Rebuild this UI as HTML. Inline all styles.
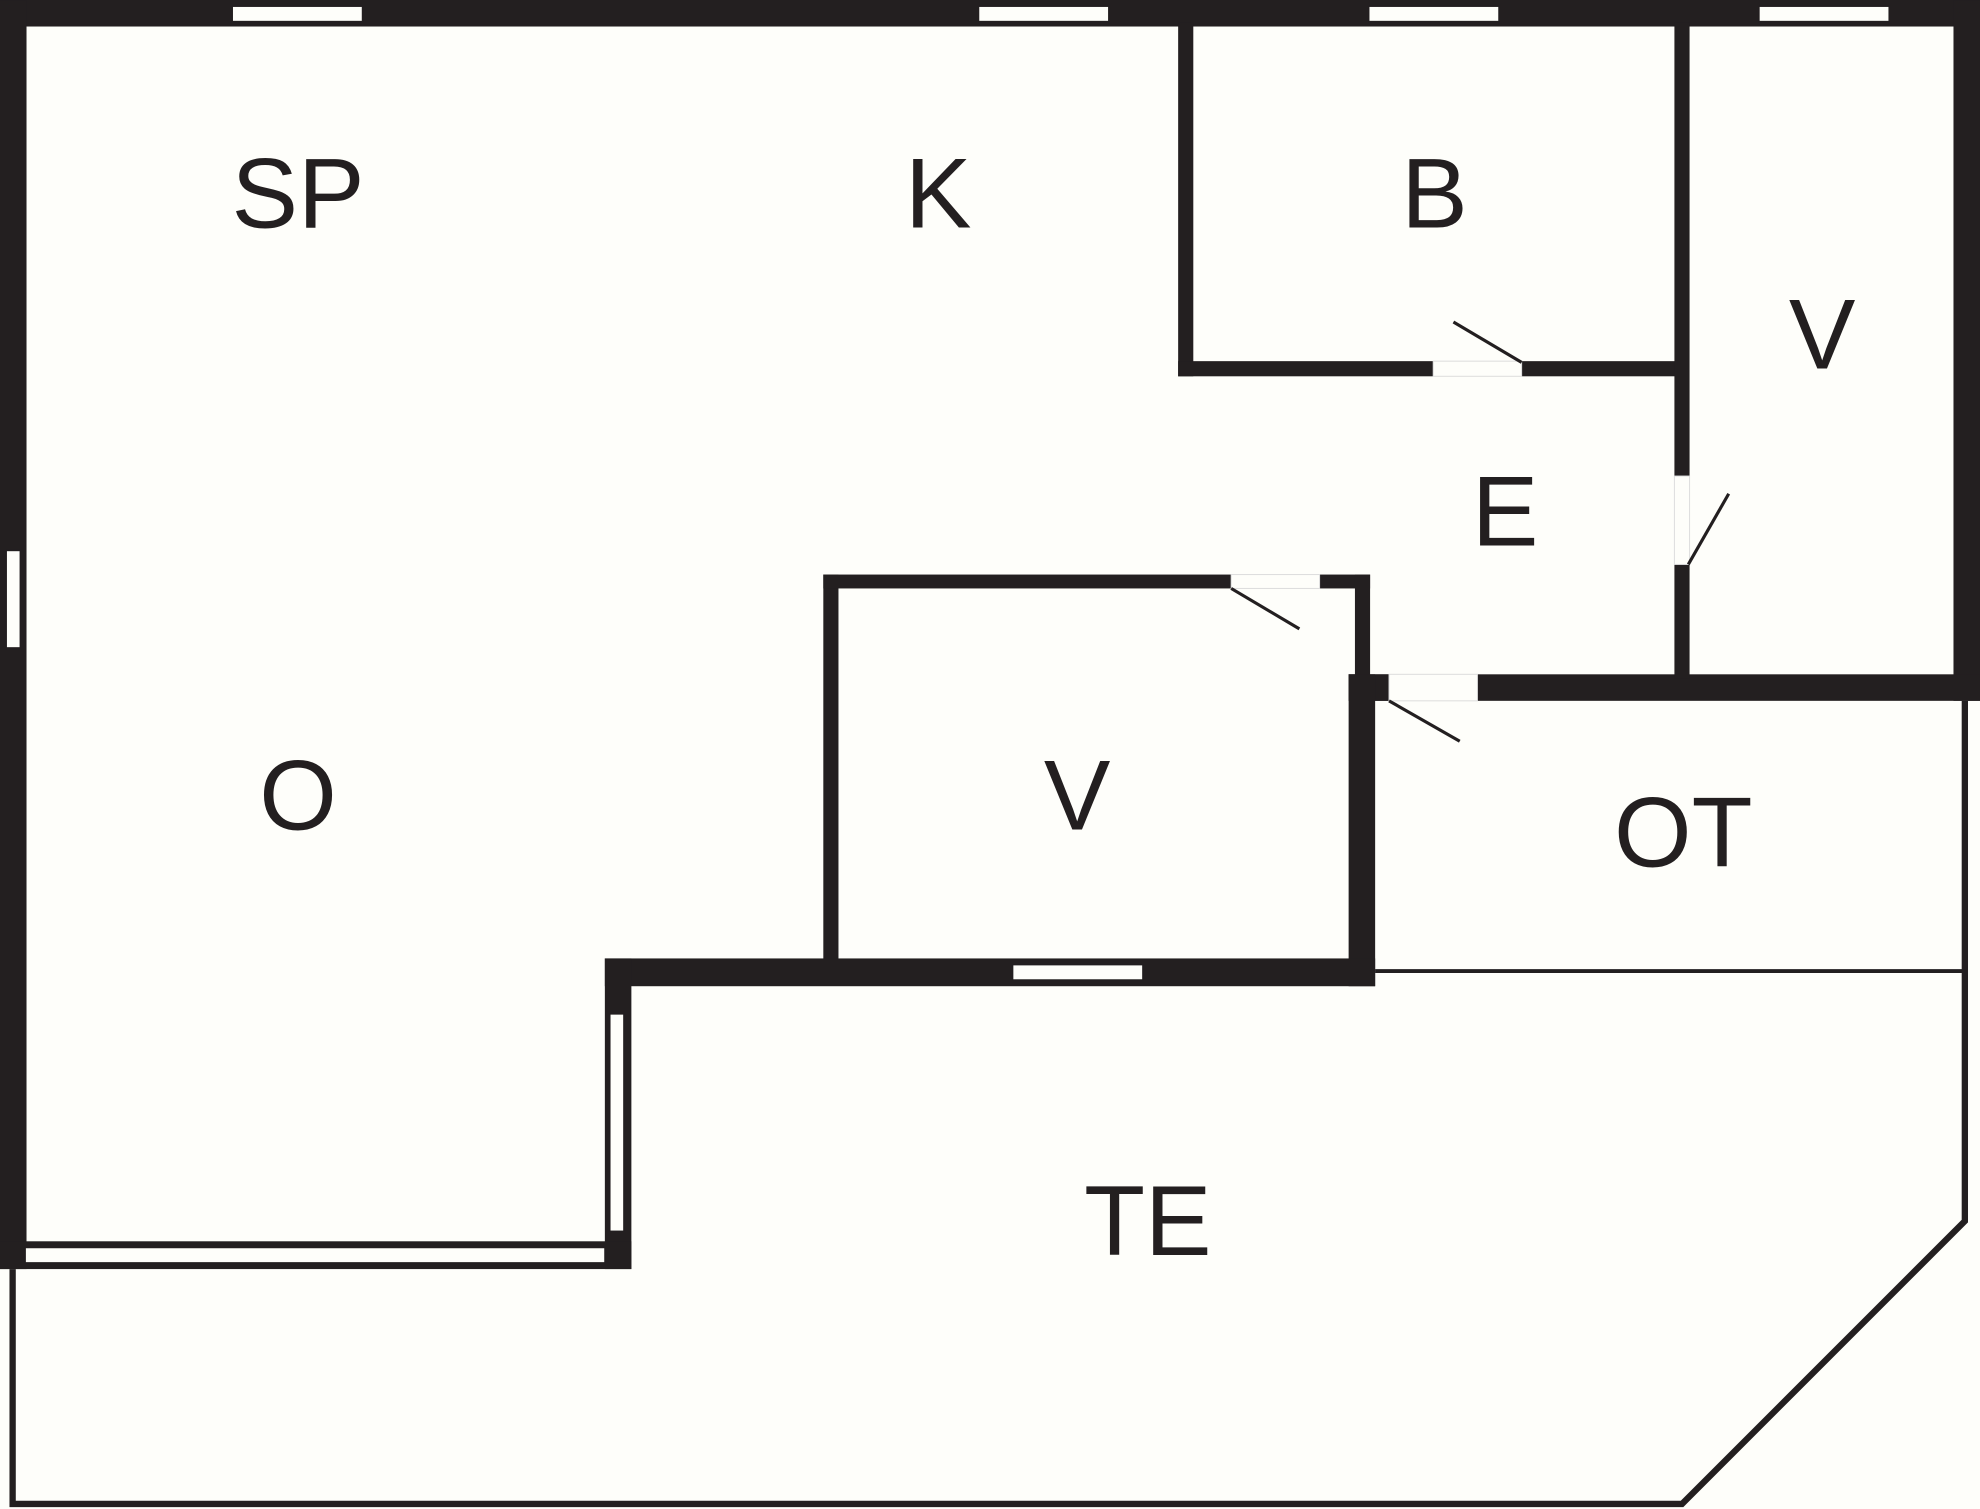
<!DOCTYPE html>
<html><head><style>html,body{margin:0;padding:0;background:#fefefa;}svg{display:block}</style></head>
<body>
<svg width="1980" height="1509" viewBox="0 0 1568 1195" xmlns="http://www.w3.org/2000/svg">
<rect x="0" y="0" width="1568" height="1195" fill="#fefefa"/>
<g fill="#231f20">
<rect x="0" y="0" width="1568" height="21"/>
<rect x="0" y="0" width="21" height="1005"/>
<rect x="1547" y="0" width="21" height="555"/>
<rect x="1068" y="534" width="500" height="21"/>
<rect x="933" y="18" width="12" height="280"/>
<rect x="933" y="286" width="202" height="12"/>
<rect x="1205" y="286" width="122" height="12"/>
<rect x="1326" y="18" width="12" height="359"/>
<rect x="1326" y="447" width="12" height="90"/>
<rect x="652" y="455" width="12" height="310"/>
<rect x="652" y="455" width="323" height="11"/>
<rect x="1045" y="455" width="40" height="11"/>
<rect x="1073" y="455" width="12" height="82"/>
<rect x="1068" y="534" width="32" height="21"/>
<rect x="1068" y="534" width="21" height="247"/>
<rect x="479" y="759" width="610" height="22"/>
<rect x="479" y="759" width="21" height="246"/>
<rect x="0" y="983" width="500" height="22"/>
</g>
<g fill="#fefefa" stroke="#231f20" stroke-width="1">
<rect x="184" y="5" width="103" height="12"/>
<rect x="775" y="5" width="103" height="12"/>
<rect x="1084" y="5" width="103" height="12"/>
<rect x="1393" y="5" width="103" height="12"/>
<rect x="5" y="436" width="11" height="77"/>
<rect x="802" y="764" width="103" height="12"/>
<rect x="483" y="803" width="11" height="172"/>
<rect x="20" y="988" width="459" height="12"/>
</g>
<g fill="#fefefa" stroke="#dddddd" stroke-width="0.8">
<rect x="1135" y="286" width="70" height="12"/>
<rect x="1326" y="377" width="12" height="70"/>
<rect x="975" y="455" width="70" height="11"/>
<rect x="1100" y="534" width="70" height="21"/>
</g>
<g stroke="#231f20" stroke-width="2.5" fill="none">
<line x1="1151" y1="255" x2="1205" y2="287"/>
<line x1="1337" y1="447" x2="1369" y2="391"/>
<line x1="975" y1="466" x2="1029" y2="498"/>
<line x1="1100" y1="555" x2="1156" y2="587"/>
</g>
<g stroke="#231f20" stroke-width="5" fill="none">
<polyline points="10,1005 10,1191 1332,1191 1556,967 1556,555"/>
</g>
<g stroke="#231f20" stroke-width="3" fill="none">
<line x1="1089" y1="769" x2="1556" y2="769"/>
</g>
<g font-family="'Liberation Sans',sans-serif" font-size="79" fill="#231f20" text-anchor="middle">
<text x="236" y="180">SP</text>
<text x="743" y="180">K</text>
<text x="1136" y="180">B</text>
<text x="1443" y="292">V</text>
<text x="1192" y="432">E</text>
<text x="236" y="657">O</text>
<text x="853" y="657">V</text>
<text x="1333" y="686">OT</text>
<text x="909" y="994">TE</text>
</g>
</svg>
</body></html>
